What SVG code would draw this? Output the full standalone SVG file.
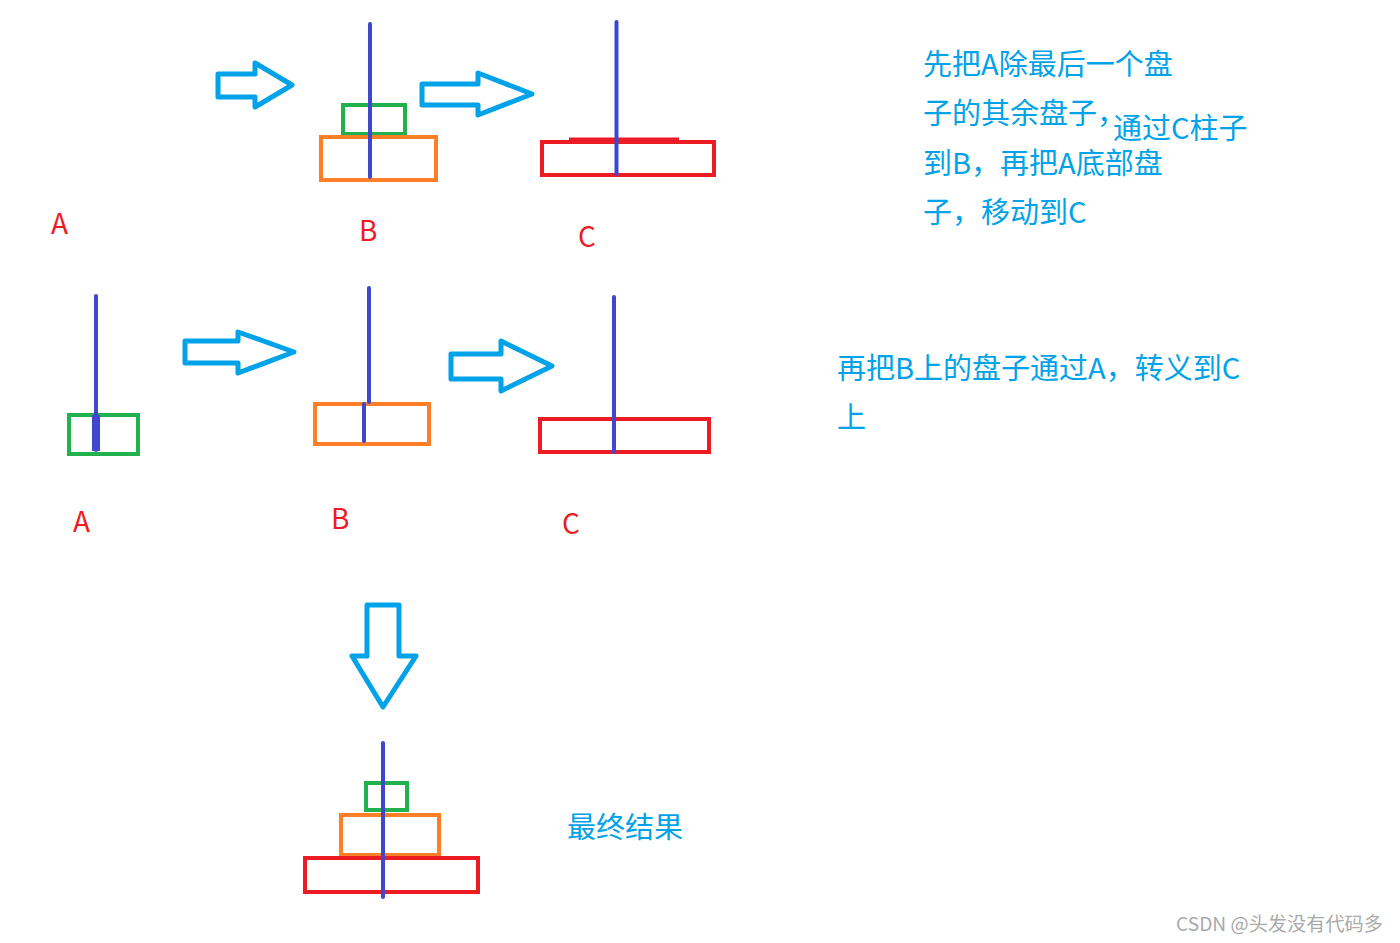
<svg xmlns="http://www.w3.org/2000/svg" width="1400" height="943" viewBox="0 0 1400 943">
<style>
.peg{stroke:#3F48CC;stroke-width:4;stroke-linecap:round;fill:none}
.g{stroke:#22B14C;stroke-width:4;fill:none}
.o{stroke:#FF7F27;stroke-width:4;fill:none}
.r{stroke:#ED1C24;stroke-width:4;fill:none}
.arr{stroke:#00A2E8;stroke-width:5;fill:none;stroke-linejoin:round}
.lbl{font-family:"Noto Sans CJK SC","Noto Sans",sans-serif;font-size:28px;fill:#ED1C24}
.txt{font-family:"Noto Sans CJK SC","Noto Sans",sans-serif;font-size:29px;fill:#00A2E8}
.wm{font-family:"Noto Sans CJK SC","Liberation Sans",sans-serif;font-size:19.2px;fill:#AAAAAA}
</style>
<rect width="1400" height="943" fill="#FFFFFF"/>
<g id="connectors">
<path class="arr" d="M218,74 L255,74 L255,63 L292,85 L255,107 L255,97 L218,97 Z"/>
<path class="arr" d="M422,84 L478,84 L478,73 L532,94 L478,115 L478,105 L422,105 Z"/>
<path class="arr" d="M185,341 L238,341 L238,332 L294,352 L238,373 L238,363 L185,363 Z"/>
<path class="arr" d="M451,354 L501,354 L501,341 L552,366 L501,391 L501,379 L451,379 Z"/>
<path class="arr" d="M367,605 L399,605 L399,656 L416,656 L383,707 L352,656 L367,656 Z"/>
</g>
<g id="top-A">
<text class="lbl" x="51" y="234">A</text>
</g>
<g id="top-B">
<rect class="g" x="343" y="105" width="62" height="29"/>
<rect class="o" x="321" y="137" width="115" height="43"/>
<line class="peg" x1="370" y1="24" x2="370" y2="177"/>
<text class="lbl" x="359" y="241">B</text>
</g>
<g id="top-C">
<rect class="r" x="542" y="142" width="172" height="33"/>
<line x1="569" y1="139" x2="679" y2="139" stroke="#ED1C24" stroke-width="3"/>
<line class="peg" x1="616.5" y1="22" x2="616.5" y2="174"/>
<text class="lbl" x="578" y="247">C</text>
</g>
<g id="mid-A">
<rect class="g" x="69" y="415" width="69" height="39"/>
<line x1="67" y1="454" x2="140" y2="454" stroke="#22B14C" stroke-width="4"/>
<line class="peg" x1="96" y1="296" x2="96" y2="450"/>
<line x1="96" y1="415" x2="96" y2="451" stroke="#3F48CC" stroke-width="8"/>
<text class="lbl" x="73" y="532">A</text>
</g>
<g id="mid-B">
<rect class="o" x="315" y="404" width="114" height="40"/>
<line x1="313" y1="444" x2="431" y2="444" stroke="#FF7F27" stroke-width="4"/>
<line class="peg" x1="369" y1="288" x2="369" y2="402"/>
<line class="peg" x1="364" y1="404" x2="364" y2="441"/>
<text class="lbl" x="331" y="529">B</text>
</g>
<g id="mid-C">
<rect class="r" x="540" y="419" width="169" height="33"/>
<line class="peg" x1="614" y1="297" x2="614" y2="452"/>
<text class="lbl" x="562" y="534">C</text>
</g>
<g id="final">
<rect class="g" x="366" y="783" width="41" height="27"/>
<rect class="o" x="341" y="815" width="98" height="40"/>
<rect class="r" x="305" y="858" width="173" height="34"/>
<line class="peg" x1="383" y1="743" x2="383" y2="897"/>
<text class="txt" x="567" y="838">最终结果</text>
</g>
<g id="note-1">
<text class="txt" x="923" y="75">先把A除最后一个盘</text>
<text class="txt" x="923" y="124">子的其余盘子，</text>
<text class="txt" x="1113" y="139">通过C柱子</text>
<text class="txt" x="923" y="174">到B，再把A底部盘</text>
<text class="txt" x="923" y="223">子，移动到C</text>
</g>
<g id="note-2">
<text class="txt" x="837" y="379">再把B上的盘子通过A，转义到C</text>
<text class="txt" x="837" y="428">上</text>
</g>
<text class="wm" x="1176" y="931">CSDN @头发没有代码多</text>
</svg>
